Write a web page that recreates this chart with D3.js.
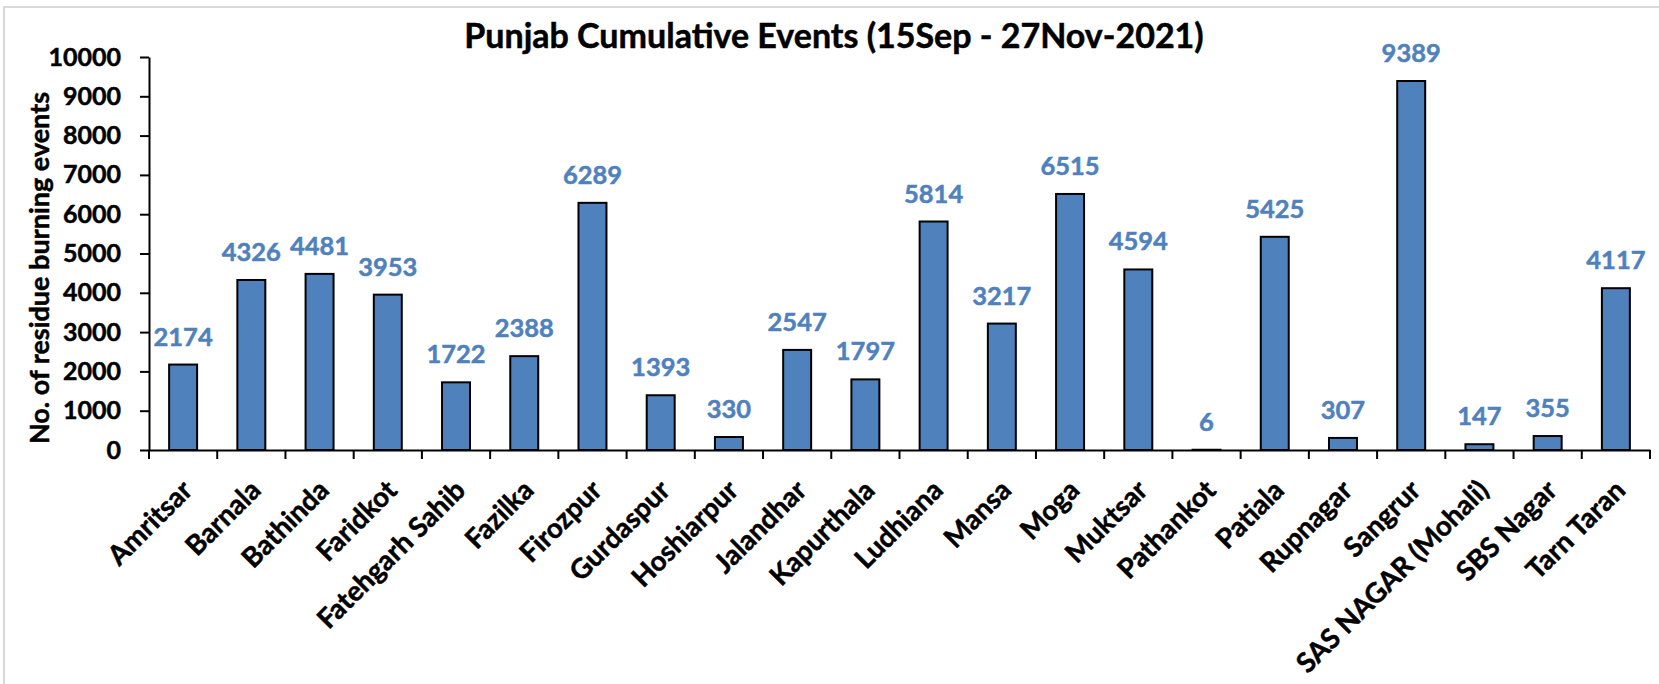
<!DOCTYPE html>
<html>
<head>
<meta charset="utf-8">
<script src="https://cdn.jsdelivr.net/npm/d3@7"></script>
<style>
  body { margin: 0; background: #fff; }
  svg { display: block; font-family: Lato, "Open Sans", sans-serif; font-weight: bold; }
  .axis path, .axis line { stroke: #000; stroke-width: 2; }
  .axis text { fill: #000; }
  text { stroke-width: 0.5px; paint-order: stroke; }
</style>
</head>
<body>
<svg width="1659" height="684"></svg>
<script>
// district names and cumulative counts
var districts = ["Amritsar", "Barnala", "Bathinda", "Faridkot", "Fatehgarh Sahib", "Fazilka",
  "Firozpur", "Gurdaspur", "Hoshiarpur", "Jalandhar", "Kapurthala", "Ludhiana", "Mansa", "Moga",
  "Muktsar", "Pathankot", "Patiala", "Rupnagar", "Sangrur", "SAS NAGAR (Mohali)", "SBS Nagar", "Tarn Taran"];
var events = [2174, 4326, 4481, 3953, 1722, 2388, 6289, 1393, 330, 2547, 1797, 5814, 3217, 6515,
  4594, 6, 5425, 307, 9389, 147, 355, 4117];
var yTicks = [0, 1000, 2000, 3000, 4000, 5000, 6000, 7000, 8000, 9000, 10000];

var svg = d3.select('svg');
var padding = {t: 57, r: 9, b: 234, l: 149};
var svgWidth = +svg.attr('width');
var svgHeight = +svg.attr('height');
var chartWidth = svgWidth - padding.l - padding.r;
var chartHeight = svgHeight - padding.t - padding.b;

// chart frame (only top/left edges show in the original)
svg.append('rect')
  .attr('x', 4).attr('y', 7)
  .attr('width', svgWidth + 10).attr('height', svgHeight + 10)
  .attr('fill', 'none')
  .attr('stroke', '#d9d9d9')
  .attr('stroke-width', 2);

var xScale = d3.scaleBand()
  .domain(districts)
  .range([0, chartWidth])
  .paddingInner(0.59)
  .paddingOuter(0.295);

var yScale = d3.scaleLinear()
  .domain([0, 10000])
  .range([chartHeight, 0]);

var chart = svg.append('g')
  .attr('transform', 'translate(' + [padding.l, padding.t] + ')');

chart.selectAll('.bar')
  .data(events)
  .enter()
  .append('rect')
  .attr('class', 'bar')
  .attr('x', (d, i) => xScale(districts[i]))
  .attr('y', d => yScale(d))
  .attr('width', xScale.bandwidth())
  .attr('height', d => chartHeight - yScale(d))
  .attr('fill', '#4f81bd')
  .attr('stroke', '#000')
  .attr('stroke-width', 2);

chart.selectAll('.value')
  .data(events)
  .enter()
  .append('text')
  .attr('class', 'value')
  .attr('x', (d, i) => xScale(districts[i]) + xScale.bandwidth() / 2)
  .attr('y', d => yScale(d) - 19)
  .attr('text-anchor', 'middle')
  .attr('fill', '#4f81bd')
  .attr('stroke', '#4f81bd')
  .style('font-size', '25.5px')
  .text(d => d);

// y axis
chart.append('g')
  .attr('class', 'y axis')
  .call(d3.axisLeft(yScale).tickValues(yTicks).tickFormat(d3.format('d')).tickSize(9).tickPadding(19).tickSizeOuter(0))
  .call(g => g.selectAll('text').style('font-size', '25px').style('font-family', 'Lato, sans-serif').attr('stroke', '#000'));

// x axis with ticks between categories
var xAxis = chart.append('g')
  .attr('class', 'x axis')
  .attr('transform', 'translate(0,' + chartHeight + ')')
  .call(d3.axisBottom(xScale).tickSize(0).tickSizeOuter(0).tickFormat(''));

xAxis.selectAll('.sep')
  .data(d3.range(districts.length + 1))
  .enter()
  .append('line')
  .attr('class', 'sep')
  .attr('x1', i => i * xScale.step())
  .attr('x2', i => i * xScale.step())
  .attr('y1', 0)
  .attr('y2', 9);

chart.selectAll('.cat')
  .data(districts)
  .enter()
  .append('text')
  .attr('class', 'cat')
  .attr('text-anchor', 'end')
  .attr('stroke', '#000')
  .attr('transform', d => 'translate(' + [xScale(d) + xScale.bandwidth() / 2 + 11, chartHeight + 42] + ')rotate(-45)')
  .style('font-size', '27.5px')
  .text(d => d);

// titles
svg.append('text')
  .attr('x', 834)
  .attr('y', 48)
  .attr('text-anchor', 'middle')
  .attr('stroke', '#000')
  .style('font-size', '34px')
  .text('Punjab Cumulative Events (15Sep - 27Nov-2021)');

svg.append('text')
  .attr('transform', 'translate(' + [49, 268] + ')rotate(-90)')
  .attr('text-anchor', 'middle')
  .attr('stroke', '#000')
  .style('font-size', '27px')
  .text('No. of residue burning events');
</script>
</body>
</html>
